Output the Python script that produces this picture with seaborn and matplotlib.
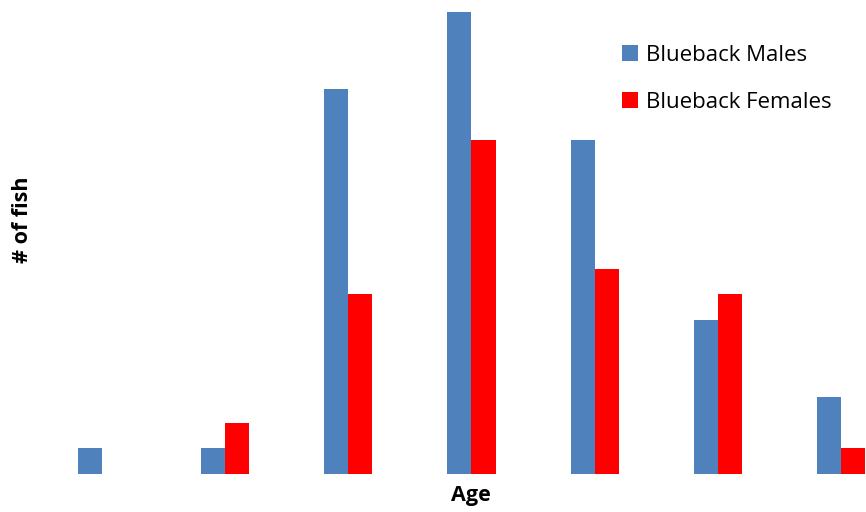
import pandas as pd
import seaborn as sns
import matplotlib.pyplot as plt

# fish counts per age class
ages = ['1', '2', '3', '4', '5', '6', '7']
males = [1, 1, 15, 18, 13, 6, 3]
females = [0, 2, 7, 13, 8, 7, 1]

df = pd.DataFrame({
    'Age': ages * 2,
    'Count': males + females,
    'Group': ['Blueback Males'] * len(ages) + ['Blueback Females'] * len(ages),
})

sns.set_style('white')
plt.rcParams['font.family'] = ['Open Sans', 'DejaVu Sans']
plt.rcParams['text.color'] = 'black'

fig = plt.figure(figsize=(8.66, 5.12), dpi=100)
ax = fig.add_axes([0, 38 / 512, 1, 474 / 512])

sns.barplot(data=df, x='Age', y='Count', hue='Group', ax=ax,
            palette=['#4F81BD', '#FF0000'], width=0.39, gap=0,
            saturation=1, edgecolor='none', linewidth=0)

ax.set_xlim(-102 / 123.2, 6 + 25 / 123.2)
ax.set_ylim(0, 18 * 474 / 462)
ax.set_xticks([])
ax.set_yticks([])
ax.set_xlabel('')
ax.set_ylabel('')
sns.despine(ax=ax, left=True, bottom=True)

fig.text(471 / 866, 1 - 496 / 512, 'Age', ha='center', va='center',
         fontsize=15.5, fontweight='bold')
fig.text(22 / 866, 1 - 220 / 512, '# of fish', ha='center', va='center',
         rotation=90, fontsize=15.5, fontweight='bold')

leg = ax.legend(loc='upper left', bbox_to_anchor=(602 / 866, 1 - 25 / 512),
                bbox_transform=fig.transFigure, frameon=False, fontsize=16,
                handlelength=0.7, handleheight=0.7, handletextpad=0.4,
                labelspacing=1.15)
for t in leg.get_texts():
    t.set_color('black')

fig.savefig('out.png', dpi=100)
